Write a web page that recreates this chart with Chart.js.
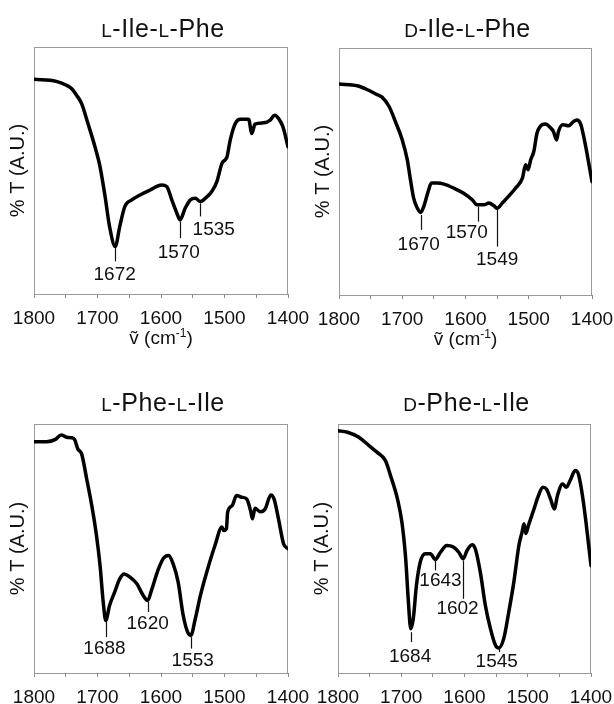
<!DOCTYPE html>
<html>
<head>
<meta charset="utf-8">
<script src="https://cdn.jsdelivr.net/npm/chart.js@4.4.1/dist/chart.umd.min.js"></script>
<style>
  html, body { margin: 0; padding: 0; background: #fff; overflow: hidden; }
  body { width: 614px; height: 704px; position: relative; }
  canvas { position: absolute; }
</style>
</head>
<body>
<canvas id="c1"></canvas>
<canvas id="c2"></canvas>
<canvas id="c3"></canvas>
<canvas id="c4"></canvas>
<script>
// ---------- DATA ----------
const titles = ["L-Ile-L-Phe", "D-Ile-L-Phe", "L-Phe-L-Ile", "D-Phe-L-Ile"];
const xTickLabels = [1800, 1700, 1600, 1500, 1400];
const yAxisTitle = "% T (A.U.)";

const wn1 = [1800,1765,1749,1741,1733,1725,1715,1704,1696,1688,1681,1672,1665,1657,1646,1633,1617,1599,1591,1583,1575,1570,1562,1554,1546,1538,1530,1520,1512,1504,1499,1496,1491,1483,1475,1462,1457,1452,1438,1428,1421,1415,1408,1400];
const t1  = [86.9,86.1,84.5,83.2,80.5,77.1,69,59.6,51.5,39.4,27.3,19.2,27.3,35.4,38.1,40.1,42.1,44.1,43.5,38.1,32.7,30.0,34.7,38.1,38.8,37.4,38.8,41.5,45.5,52.9,54.3,55.6,62.3,69,70.7,70.7,65,68.8,69.3,70.4,72.4,71.1,67.7,59.6];

const wn2 = [1800,1771,1755,1742,1732,1721,1711,1700,1692,1687,1682,1676,1671,1666,1659,1654,1645,1634,1618,1603,1589,1582,1571,1563,1555,1550,1542,1532,1521,1510,1505,1501,1497,1492,1487,1482,1474,1466,1461,1456,1453,1446,1437,1429,1424,1418,1411,1400];
const t2  = [85.4,84.7,83.1,81.4,80.1,76.4,70.3,62.8,54.7,46.6,39.2,35.1,33.4,35.8,41.9,45.3,45.3,44.9,43.2,41.2,38.5,36.5,36.5,37.2,36.1,35.1,37.2,39.9,43.2,47.3,52.7,50.7,54.7,58.1,65.5,68.2,69.2,67.8,66.2,62.8,66.2,68.9,68.5,70.3,70.9,69.3,61.5,45.9];

const wn3 = [1800,1780,1767,1757,1749,1741,1736,1731,1725,1717,1709,1702,1696,1691,1687,1681,1673,1665,1658,1649,1638,1628,1621,1615,1604,1596,1588,1581,1573,1565,1558,1553,1546,1538,1528,1515,1504,1501,1497,1495,1488,1481,1473,1465,1459,1456,1452,1444,1436,1427,1422,1415,1407,1400];
const t3  = [92.9,92.9,93.7,95.6,94.7,94.5,93.7,90,88,77.9,67.2,55.9,43.2,28.5,21.1,27.1,32.5,37.8,39.8,38.5,35.8,31.1,29.1,33.2,41.8,46.1,47.2,43.9,36.5,23.1,16.4,15.1,21.8,31.1,40.5,51.2,58.6,57.2,57.9,64.6,67.2,71.3,70.6,69.9,65.2,61.9,66.2,64.8,65.9,71.5,69.9,61.9,51.9,49.9];

const wn4 = [1800,1785,1767,1751,1738,1725,1717,1706,1699,1693,1689,1685,1681,1676,1670,1662,1654,1646,1638,1628,1617,1609,1602,1596,1588,1583,1575,1567,1559,1551,1546,1538,1530,1522,1514,1509,1506,1503,1499,1491,1483,1476,1470,1464,1458,1453,1445,1439,1433,1425,1420,1412,1400];
const t4  = [97.3,96.7,94.7,91.3,88.6,85.3,79.3,69.9,60.6,45.9,29.8,17.8,21.8,35.2,44.5,47.9,47.9,45.6,48.5,51.2,50.5,48.5,45.9,49.2,51.5,49.9,40.5,27.1,17.8,11.1,10.0,13.8,24.5,36.5,51.2,56.6,59.9,56,59.2,65.2,71.3,74.6,73.7,69.9,65.9,71.3,75.9,74.6,77.3,81.3,79.9,68.6,43.2];

// peak labels: text, marker wavenumber, marker from/to (T units), label anchor (wavenumber, T)
const peaks1 = [
  {text:"1672", wn:1672, from:18.6, to:13.2, lx:1673, ly:7.8},
  {text:"1570", wn:1570, from:29.3, to:22.6, lx:1572, ly:16.6},
  {text:"1535", wn:1538, from:36.7, to:31.4, lx:1517, ly:26.0}
];
const peaks2 = [
  {text:"1670", wn:1671, from:32.4, to:26.4, lx:1674, ly:20.3},
  {text:"1570", wn:1580, from:35.8, to:29.7, lx:1598, ly:25.0},
  {text:"1549", wn:1550, from:34.5, to:19.6, lx:1550, ly:14.2}
];
const peaks3 = [
  {text:"1688", wn:1687, from:20.5, to:14.4, lx:1689, ly:9.8},
  {text:"1620", wn:1621, from:28.5, to:24.5, lx:1621, ly:19.8},
  {text:"1553", wn:1553, from:14.4, to:9.8,  lx:1550, ly:5.1}
];
const peaks4 = [
  {text:"1684", wn:1684, from:16.4, to:12.4, lx:1686, ly:6.4},
  {text:"1643", wn:1646, from:45.2, to:41.2, lx:1638, ly:36.9},
  {text:"1602", wn:1602, from:45.2, to:29.8, lx:1611, ly:25.8},
  {text:"1545", wn:1546, from:10.0, to:8.4,  lx:1549, ly:4.4}
];

// ---------- LAYOUT ----------
const FONT = '"Liberation Sans", Arial, Helvetica, sans-serif';
const PAD_R = 36;
const panels = [
  {id:"c1", series:[wn1,t1], peaks:peaks1, title:titles[0], l:34, t:47, r:288, b:294, top:0,   titleGap:10, xTitle:true},
  {id:"c2", series:[wn2,t2], peaks:peaks2, title:titles[1], l:339, t:48, r:592, b:295, top:0,  titleGap:11, xTitle:true},
  {id:"c3", series:[wn3,t3], peaks:peaks3, title:titles[2], l:34, t:424, r:288, b:673, top:352, titleGap:13, xTitle:false},
  {id:"c4", series:[wn4,t4], peaks:peaks4, title:titles[3], l:338, t:424, r:591, b:673, top:352, titleGap:13, xTitle:false}
];

function splitTitle(s) {
  // L / D configuration prefixes are shown as small capitals
  const parts = [];
  for (let i = 0; i < s.length; i++) {
    const ch = s[i];
    const isPrefix = (ch === 'L' || ch === 'D') && (i === 0 || s[i-1] === '-') && s[i+1] === '-';
    const last = parts[parts.length - 1];
    if (isPrefix) parts.push({t: ch, small: true});
    else if (last && !last.small) last.t += ch;
    else parts.push({t: ch, small: false});
  }
  return parts;
}

const panelPlugin = {
  id: 'panelDeco',
  beforeDatasetsDraw(chart) {
    const {ctx, chartArea: a} = chart;
    ctx.save();
    ctx.strokeStyle = '#9a9a9a';
    ctx.lineWidth = 1;
    ctx.strokeRect(Math.round(a.left) + 0.5, Math.round(a.top) + 0.5,
                   Math.round(a.right - a.left) - 1, Math.round(a.bottom - a.top));
    ctx.restore();
  },
  afterDatasetsDraw(chart, args, opts) {
    const {ctx, chartArea: a, scales} = chart;
    const p = opts.panel;
    const xs = scales.x, ys = scales.y;
    ctx.save();
    ctx.fillStyle = '#111';
    ctx.strokeStyle = '#111';

    // title with small caps
    const parts = splitTitle(p.title);
    const big = 25, small = 19;
    const spacing = 0.6;
    let total = 0;
    parts.forEach(pt => {
      ctx.font = (pt.small ? small : big) + 'px ' + FONT;
      pt.w = ctx.measureText(pt.t).width + spacing * pt.t.length;
      total += pt.w;
    });
    let x = (a.left + a.right) / 2 + 2 - total / 2;
    const by = a.top - p.titleGap;
    ctx.textAlign = 'left';
    ctx.textBaseline = 'alphabetic';
    parts.forEach(pt => {
      ctx.font = (pt.small ? small : big) + 'px ' + FONT;
      let cx = x;
      for (const ch of pt.t) {
        ctx.fillText(ch, cx, by);
        cx += ctx.measureText(ch).width + spacing;
      }
      x += pt.w;
    });

    // y-axis title
    ctx.save();
    ctx.translate(a.left - 16, (a.top + a.bottom) / 2);
    ctx.rotate(-Math.PI / 2);
    ctx.font = '20px ' + FONT;
    ctx.textAlign = 'center';
    ctx.textBaseline = 'middle';
    ctx.fillText(yAxisTitle, 0, 0);
    ctx.restore();

    // x-axis title
    if (p.xTitle) {
      const main1 = 'ṽ (cm', sup = '-1', main2 = ')';
      ctx.font = '19px ' + FONT;
      const w1 = ctx.measureText(main1).width, w3 = ctx.measureText(main2).width;
      ctx.font = '12px ' + FONT;
      const w2 = ctx.measureText(sup).width;
      let sx = (a.left + a.right) / 2 - (w1 + w2 + w3) / 2;
      const yb = a.bottom + 50;
      ctx.textBaseline = 'alphabetic';
      ctx.font = '19px ' + FONT; ctx.fillText(main1, sx, yb); sx += w1;
      ctx.font = '12px ' + FONT; ctx.fillText(sup, sx, yb - 7); sx += w2;
      ctx.font = '19px ' + FONT; ctx.fillText(main2, sx, yb);
    }

    // peak markers and labels
    ctx.lineWidth = 1.2;
    ctx.font = '19px ' + FONT;
    ctx.textAlign = 'center';
    ctx.textBaseline = 'middle';
    p.peaks.forEach(pk => {
      const px = Math.round(xs.getPixelForValue(pk.wn)) + 0.5;
      ctx.beginPath();
      ctx.moveTo(px, ys.getPixelForValue(pk.from));
      ctx.lineTo(px, ys.getPixelForValue(pk.to));
      ctx.stroke();
      ctx.fillText(pk.text, xs.getPixelForValue(pk.lx), ys.getPixelForValue(pk.ly));
    });
    ctx.restore();
  }
};

panels.forEach(p => {
  const cv = document.getElementById(p.id);
  const left = p.l - 34;
  const width = (p.r - left) + PAD_R;
  const height = 352;
  cv.style.left = left + 'px';
  cv.style.top = p.top + 'px';
  cv.width = width; cv.height = height;
  cv.style.width = width + 'px'; cv.style.height = height + 'px';
  const axisH = (p.top + height) - p.b;
  const [wn, tr] = p.series;

  new Chart(cv, {
    type: 'line',
    data: {
      datasets: [{
        data: wn.map((w, i) => ({x: w, y: tr[i]})),
        borderColor: '#000',
        borderWidth: 3.5,
        pointRadius: 0,
        cubicInterpolationMode: 'monotone',
        borderJoinStyle: 'round',
        borderCapStyle: 'round',
        fill: false
      }]
    },
    options: {
      responsive: false,
      animation: false,
      devicePixelRatio: 1,
      layout: { padding: { left: 34, right: PAD_R, top: p.t - p.top, bottom: 0 } },
      plugins: {
        legend: { display: false },
        tooltip: { enabled: false },
        title: { display: false },
        panelDeco: { panel: p }
      },
      scales: {
        x: {
          type: 'linear',
          min: 1400, max: 1800,
          reverse: true,
          afterFit: s => { s.height = axisH; },
          border: { display: false },
          grid: { drawOnChartArea: false, drawTicks: true, tickLength: 4, color: '#8a8a8a', lineWidth: 1 },
          ticks: {
            stepSize: 50,
            autoSkip: false,
            maxRotation: 0,
            padding: 9,
            color: '#111',
            font: { family: FONT, size: 19 },
            callback: v => xTickLabels.includes(v) ? String(v) : ''
          }
        },
        y: { display: false, min: 0, max: 100 }
      }
    },
    plugins: [panelPlugin]
  });
});
</script>
</body>
</html>
